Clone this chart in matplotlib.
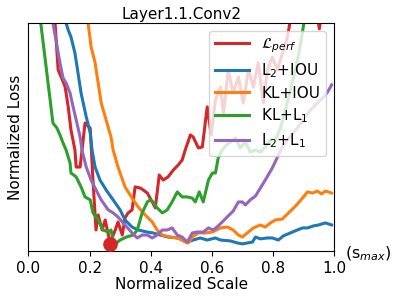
import matplotlib.pyplot as plt

# normalized scale (x) and normalized loss (y)
perf_x = [0.080, 0.087, 0.097, 0.107, 0.120, 0.130, 0.139, 0.152, 0.156, 0.169, 0.179, 0.185, 0.202,
          0.211, 0.221, 0.228, 0.241, 0.251, 0.267, 0.284, 0.293, 0.307, 0.316, 0.326, 0.339, 0.349,
          0.366, 0.375, 0.389, 0.405, 0.415, 0.428, 0.441, 0.457, 0.474, 0.490, 0.503, 0.513, 0.530,
          0.539, 0.556, 0.569, 0.585, 0.598, 0.612, 0.628, 0.638, 0.654, 0.670, 0.687, 0.703, 0.720,
          0.736, 0.752, 0.769, 0.782, 0.798, 0.815, 0.831, 0.848, 0.857, 0.874, 0.930, 0.952, 0.972, 0.992]
perf_y = [1.12, 1.0, 0.794, 0.763, 0.719, 0.632, 0.531, 0.443, 0.368, 0.368, 0.487, 0.561, 0.539,
          0.311, 0.092, 0.158, 0.092, 0.136, 0.035, 0.092, 0.127, 0.070, 0.145, 0.167, 0.180, 0.281,
          0.276, 0.268, 0.254, 0.215, 0.189, 0.333, 0.311, 0.325, 0.355, 0.377, 0.399, 0.443, 0.509,
          0.500, 0.452, 0.456, 0.632, 0.509, 0.662, 0.719, 0.605, 0.794, 0.693, 0.763, 0.649, 0.794,
          0.719, 0.825, 0.649, 0.794, 0.851, 0.794, 0.868, 0.939, 1.013, 1.14, 1.18, 0.974, 1.18, 1.22]

l2iou_x = [0.116, 0.123, 0.130, 0.139, 0.152, 0.162, 0.172, 0.189, 0.202, 0.208, 0.218, 0.234, 0.254,
           0.277, 0.300, 0.316, 0.339, 0.359, 0.389, 0.408, 0.431, 0.457, 0.487, 0.507, 0.520, 0.539,
           0.562, 0.585, 0.612, 0.628, 0.661, 0.684, 0.700, 0.716, 0.733, 0.743, 0.759, 0.782, 0.798,
           0.818, 0.834, 0.857, 0.880, 0.897, 0.913, 0.933, 0.949, 0.972, 0.992]
l2iou_y = [1.10, 1.0, 0.969, 0.939, 0.868, 0.781, 0.693, 0.588, 0.518, 0.443, 0.368, 0.311, 0.268,
           0.224, 0.180, 0.136, 0.105, 0.092, 0.083, 0.079, 0.070, 0.061, 0.057, 0.048, 0.039, 0.048,
           0.057, 0.048, 0.057, 0.048, 0.044, 0.035, 0.031, 0.035, 0.039, 0.061, 0.053, 0.057, 0.057,
           0.048, 0.066, 0.079, 0.092, 0.101, 0.101, 0.110, 0.114, 0.123, 0.114]

kliou_x = [0.189, 0.195, 0.205, 0.218, 0.228, 0.238, 0.254, 0.270, 0.277, 0.293, 0.316, 0.339, 0.359,
           0.382, 0.405, 0.421, 0.438, 0.464, 0.490, 0.513, 0.523, 0.536, 0.556, 0.579, 0.602, 0.628,
           0.651, 0.670, 0.687, 0.700, 0.716, 0.736, 0.759, 0.775, 0.792, 0.808, 0.831, 0.851, 0.874,
           0.897, 0.913, 0.930, 0.946, 0.959, 0.972, 0.992]
kliou_y = [1.10, 1.0, 0.895, 0.825, 0.737, 0.649, 0.575, 0.500, 0.443, 0.368, 0.281, 0.232, 0.193,
           0.158, 0.127, 0.092, 0.070, 0.061, 0.057, 0.039, 0.035, 0.061, 0.079, 0.079, 0.083, 0.101,
           0.105, 0.092, 0.070, 0.061, 0.079, 0.101, 0.114, 0.105, 0.123, 0.136, 0.140, 0.167, 0.197,
           0.232, 0.259, 0.254, 0.263, 0.250, 0.263, 0.254]

kll1_x = [0.031, 0.080, 0.093, 0.103, 0.113, 0.123, 0.136, 0.139, 0.156, 0.172, 0.185, 0.202, 0.211,
          0.228, 0.244, 0.261, 0.270, 0.280, 0.300, 0.320, 0.343, 0.356, 0.372, 0.389, 0.398, 0.408,
          0.421, 0.438, 0.454, 0.470, 0.487, 0.503, 0.520, 0.536, 0.546, 0.559, 0.572, 0.589, 0.602,
          0.612, 0.621, 0.634, 0.648, 0.661, 0.677, 0.693, 0.710, 0.726, 0.743, 0.759, 0.775, 0.792,
          0.808, 0.825, 0.841, 0.857, 0.874, 0.890, 0.903, 0.916]
kll1_y = [1.10, 0.561, 0.539, 0.509, 0.474, 0.443, 0.386, 0.342, 0.325, 0.281, 0.237, 0.224, 0.167,
          0.136, 0.092, 0.083, 0.092, 0.026, 0.048, 0.061, 0.070, 0.092, 0.167, 0.215, 0.224, 0.215,
          0.189, 0.167, 0.180, 0.215, 0.259, 0.237, 0.237, 0.232, 0.215, 0.259, 0.215, 0.311, 0.342,
          0.342, 0.408, 0.443, 0.465, 0.478, 0.496, 0.452, 0.478, 0.434, 0.443, 0.434, 0.456, 0.487,
          0.487, 0.539, 0.618, 0.706, 0.794, 0.904, 1.013, 1.10]

l2l1_x = [0.074, 0.080, 0.090, 0.103, 0.113, 0.123, 0.136, 0.146, 0.156, 0.169, 0.175, 0.189, 0.205,
          0.221, 0.238, 0.261, 0.277, 0.293, 0.316, 0.339, 0.356, 0.372, 0.389, 0.405, 0.421, 0.438,
          0.454, 0.470, 0.487, 0.503, 0.520, 0.536, 0.552, 0.572, 0.589, 0.605, 0.621, 0.638, 0.654,
          0.670, 0.687, 0.700, 0.710, 0.726, 0.743, 0.759, 0.775, 0.798, 0.815, 0.831, 0.848, 0.880,
          0.900, 0.923, 0.946, 0.966, 0.979, 0.992]
l2l1_y = [1.10, 1.0, 0.925, 0.825, 0.759, 0.737, 0.693, 0.632, 0.575, 0.500, 0.443, 0.368, 0.311,
          0.268, 0.224, 0.180, 0.167, 0.149, 0.114, 0.079, 0.057, 0.070, 0.070, 0.057, 0.070, 0.092,
          0.092, 0.101, 0.070, 0.061, 0.039, 0.079, 0.083, 0.083, 0.101, 0.092, 0.110, 0.132, 0.154,
          0.175, 0.215, 0.215, 0.202, 0.224, 0.241, 0.276, 0.311, 0.364, 0.412, 0.456, 0.487, 0.539,
          0.575, 0.618, 0.649, 0.675, 0.697, 0.728]

best_x = [0.267]
best_y = [0.031]

fig = plt.figure(figsize=(3.98, 2.97), dpi=100)
ax = fig.add_axes([0.0716, 0.155, 0.7676, 0.7677])

lw = 2.2
ax.plot(perf_x, perf_y, color='#d62728', lw=lw, label=r'$\mathcal{L}_{perf}$')
ax.plot(l2iou_x, l2iou_y, color='#1f77b4', lw=lw, label=r'L$_2$+IOU')
ax.plot(kliou_x, kliou_y, color='#ff7f0e', lw=lw, label='KL+IOU')
ax.plot(kll1_x, kll1_y, color='#2ca02c', lw=lw, label=r'KL+L$_1$')
ax.plot(l2l1_x, l2l1_y, color='#9467bd', lw=lw, label=r'L$_2$+L$_1$')
ax.plot(best_x, best_y, 'o', color='#d62728', ms=9.5, zorder=5, clip_on=False)

ax.set_xlim(0, 1.0)
ax.set_ylim(0, 1.0)
ax.set_yticks([])
ax.set_xticks([0.0, 0.2, 0.4, 0.6, 0.8, 1.0])
ax.tick_params(axis='x', labelsize=11)
ax.set_title('Layer1.1.Conv2', fontsize=11, pad=3)
ax.set_xlabel('Normalized Scale', fontsize=11, labelpad=1)
ax.set_ylabel('Normalized Loss', fontsize=11)
ax.text(1.035, -0.012, r'(s$_{max}$)', transform=ax.transAxes, fontsize=11.5, va='center', ha='left')
ax.legend(loc='upper right', fontsize=11, labelspacing=0.38, handlelength=2.2)

fig.savefig('out.png', dpi=100)
